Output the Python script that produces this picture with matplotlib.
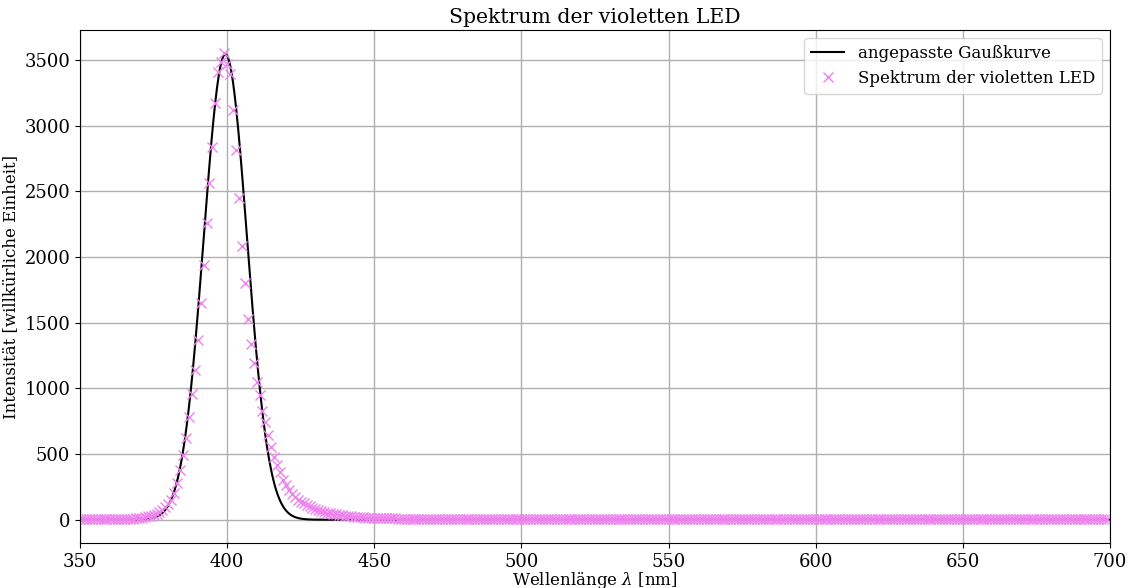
import numpy as np
import matplotlib
matplotlib.use('Agg')
import matplotlib.pyplot as plt

plt.rcParams['font.family'] = 'DejaVu Serif'
plt.rcParams['mathtext.fontset'] = 'dejavuserif'

# Messwerte: Wellenlaenge in nm (1 nm Schritte), Intensitaet in willk. Einheit
wellenlaenge = np.arange(350, 701)

intens_anstieg = [
    4, 4, 5, 4, 4, 5, 5, 4, 5, 5,
    5, 5, 6, 6, 6, 7, 7, 8, 9, 11,
    13, 16, 20, 25, 31, 38, 47, 60, 76, 94,
    118, 152, 206, 280, 379, 496, 623, 780, 959, 1137,
    1371, 1650, 1937, 2260, 2565, 2840, 3171, 3412, 3488, 3552,
]
intens_abfall = [
    3468, 3392, 3120, 2815, 2451, 2082, 1800, 1525, 1340, 1192,
    1047, 946, 831, 747, 648, 557, 481, 420, 360, 305,
    262, 225, 196, 172, 152, 137, 124, 112, 101, 91,
    82, 74, 67, 60, 54, 49, 44, 40, 36, 33,
    30, 28, 26, 24, 22, 20, 18, 16, 15, 14,
    13, 12, 12, 11, 11, 10, 10, 10, 9, 9,
    8, 8, 8, 7, 7, 7, 6, 6, 6, 6,
]
intens_rest = [
    5, 5, 5, 5, 5, 5, 5, 4, 5, 5, 4, 5, 4, 4, 5, 4, 4, 4, 5, 4, 4, 4, 4, 4, 4,
    4, 4, 4, 4, 4, 3, 4, 4, 4, 4, 3, 4, 4, 4, 3, 4, 4, 3, 4, 4, 3, 4, 4, 3, 4,
    4, 3, 4, 4, 3, 4, 3, 4, 4, 3, 4, 3, 4, 4, 3, 4, 3, 4, 4, 3, 4, 3, 4, 3, 4,
    4, 3, 4, 3, 4, 4, 3, 4, 3, 4, 4, 3, 4, 3, 4, 3, 4, 4, 3, 4, 3, 4, 4, 3, 4,
    3, 4, 4, 3, 4, 3, 4, 4, 3, 4, 3, 4, 3, 4, 4, 3, 4, 3, 4, 4, 3, 4, 3, 4, 4,
    3, 4, 3, 4, 3, 4, 4, 3, 4, 3, 4, 4, 3, 4, 3, 4, 4, 3, 4, 3, 4, 3, 4, 4, 3,
    4, 3, 4, 4, 3, 4, 3, 4, 4, 3, 4, 3, 4, 3, 4, 4, 3, 4, 3, 4, 4, 3, 4, 3, 4,
    4, 3, 4, 3, 4, 3, 4, 4, 3, 4, 3, 4, 4, 3, 4, 3, 4, 4, 3, 4, 3, 4, 3, 4, 4,
    3, 4, 3, 4, 4, 3, 4, 3, 4, 4, 3, 4, 3, 4, 3, 4, 4, 3, 4, 3, 4, 4, 3, 4, 3,
    4, 3, 4, 3, 4,
]
intensitaet = np.array(intens_anstieg + intens_abfall + intens_rest)

# Fitparameter der Gausskurve
amp, mu, sigma = 3545.0, 399.4, 7.35


def gauss(x, a, m, s):
    return a * np.exp(-(x - m) ** 2 / (2 * s ** 2))


x_fit = np.linspace(350, 700, 2000)

fig, ax = plt.subplots(figsize=(11.3, 5.88), dpi=100)
fig.subplots_adjust(left=0.0708, right=0.9823, top=0.949, bottom=0.0765)

ax.plot(x_fit, gauss(x_fit, amp, mu, sigma), color='black', lw=1.5,
        label='angepasste Gaußkurve')
ax.plot(wellenlaenge[:len(intensitaet)], intensitaet, 'x', color='violet',
        markersize=7, label='Spektrum der violetten LED')

ax.set_xlim(350, 700)
ax.set_title('Spektrum der violetten LED', fontsize=14.7, pad=5)
ax.set_xlabel(r'Wellenlänge $\lambda$ [nm]', fontsize=12, labelpad=-0.5)
ax.set_ylabel('Intensität [willkürliche Einheit]', fontsize=12, labelpad=4)
ax.tick_params(labelsize=13)
ax.grid(True, lw=1)
ax.legend(loc='upper right', fontsize=12)

fig.savefig('out.png', dpi=100)
